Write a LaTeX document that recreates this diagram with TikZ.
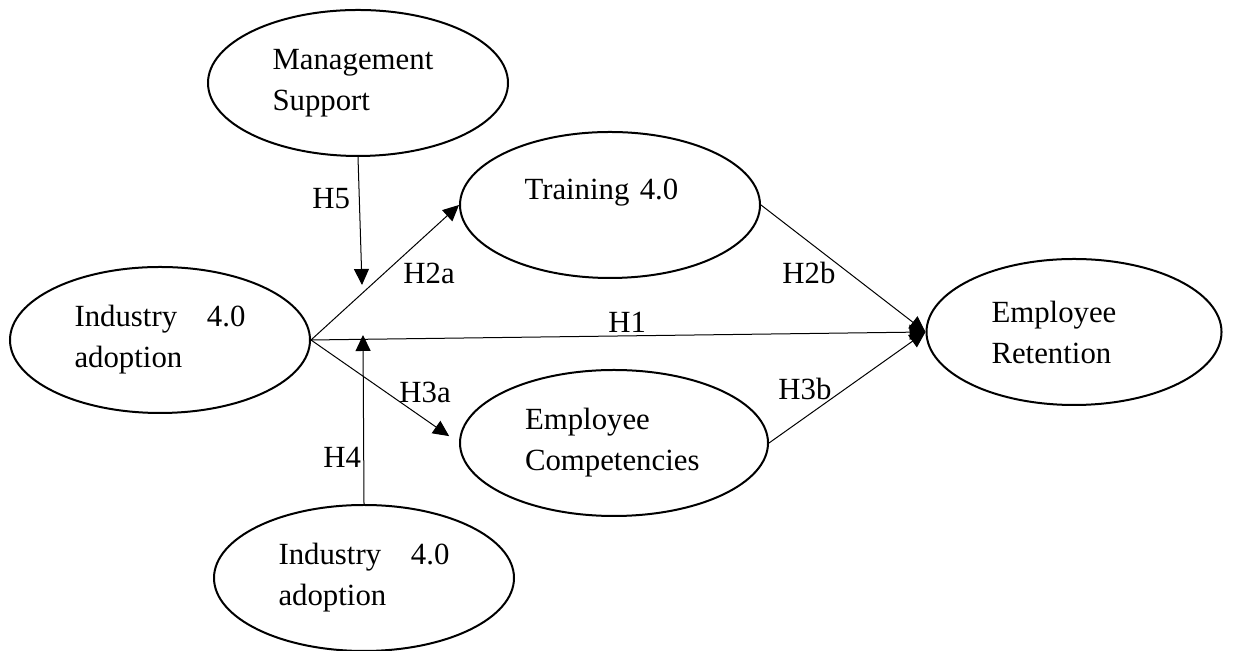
\documentclass[tikz,border=0pt]{standalone}
\usepackage{fontspec}
\setmainfont{Liberation Serif}
\usetikzlibrary{arrows.meta,shapes.geometric}

\begin{document}
\begin{tikzpicture}[x=.5pt,y=.5pt,font=\fontsize{15.4}{20.5}\selectfont,
 var/.style={ellipse,draw,line width=1pt,minimum width=150pt,minimum height=73pt,inner sep=0pt,text width=85.5pt,align=left},
 hyp/.style={line width=.5pt,-{Triangle[length=8pt,width=7.5pt]}},
 lab/.style={anchor=base west,inner sep=0pt}]
\useasboundingbox (0,0) rectangle (1234,651);
\node[var] (ms) at (358,568) {Management\\Support};
\node[var,text depth=15.5pt] (tr) at (610,446) {Training 4.0};
\node[var] (ia) at (160,311) {Industry\hfill 4.0\\adoption};
\node[var,minimum width=154pt,text width=89pt] (ec) at (614,208) {Employee\\Competencies};
\node[var,minimum width=147.5pt,text width=82.5pt] (er) at (1074,319) {Employee\\Retention};
\node[var] (ib) at (364,73) {Industry\hfill 4.0\\adoption};
\coordinate (p5) at (362,366);
\coordinate (p4) at (363,316);
\draw[hyp] (ms.south) -- (p5);
\draw[hyp] (ib.north) -- (p4);
\draw[hyp] (ia.east) -- (tr.west);
\draw[hyp,shorten >=6pt] (ia.east) -- (ec.west);
\draw[hyp] (ia.east) -- (er.west);
\draw[hyp] (tr.east) -- (er.west);
\draw[hyp] (ec.east) -- (er.west);
\foreach \t/\x/\y in {H5/312/442,H2a/403/367,H3a/399/248,H4/323/183,H1/608/318,H2b/782/367,H3b/778/251}
 \node[lab] (\t) at (\x,\y) {\t};
\end{tikzpicture}
\end{document}
